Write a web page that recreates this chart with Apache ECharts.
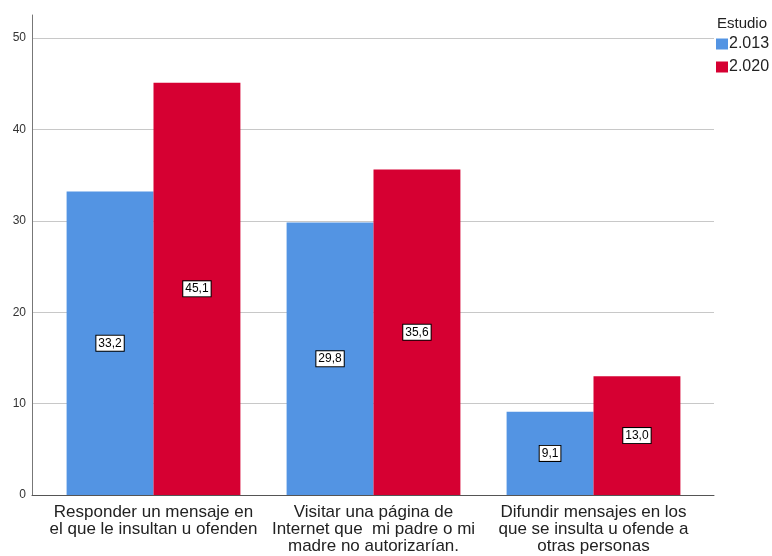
<!DOCTYPE html>
<html>
<head>
<meta charset="utf-8">
<script src="https://cdn.jsdelivr.net/npm/echarts@6/dist/echarts.min.js"></script>
<style>html,body{margin:0;padding:0;background:#fff}#c{width:772px;height:556px}</style>
</head>
<body>
<div id="c"></div>
<script>
var categories = [
  "Responder un mensaje en\nel que le insultan u ofenden",
  "Visitar una página de\nInternet que  mi padre o mi\nmadre no autorizarían.",
  "Difundir mensajes en los\nque se insulta u ofende a\notras personas"
];
var seriesNames = ["2.013", "2.020"];
var values2013 = [33.2, 29.8, 9.1];
var values2020 = [45.1, 35.6, 13.0];
var yTicks = [0, 10, 20, 30, 40, 50];
var legendTitle = "Estudio";

var FONT = "'Liberation Sans', Arial, sans-serif";
var chart = echarts.init(document.getElementById('c'), null, {renderer: 'canvas'});

function lbl() {
  return {
    show: true,
    position: 'inside',
    formatter: function (p) { return p.value.toFixed(1).replace('.', ','); },
    color: '#000',
    fontFamily: FONT,
    fontSize: 12,
    backgroundColor: '#fff',
    borderColor: '#000',
    borderWidth: 1,
    padding: [2, 2, 1, 2]
  };
}

chart.setOption({
  animation: false,
  title: {
    text: legendTitle,
    left: 717, top: 16,
    padding: 0,
    textStyle: {fontFamily: FONT, fontSize: 15, fontWeight: 'normal', color: '#222'}
  },
  legend: {
    data: seriesNames,
    orient: 'vertical',
    left: 716, top: 36,
    padding: 0,
    itemWidth: 12, itemHeight: 11,
    itemGap: 7,
    icon: 'rect',
    textStyle: {fontFamily: FONT, fontSize: 16, color: '#222', padding: [0, 0, 0, -4]}
  },
  grid: [
    {left: 32, right: 58, top: 38, bottom: 61, containLabel: false},
    {left: 43.5, right: 68.5, top: 15, bottom: 61, containLabel: false}
  ],
  xAxis: [
    {
      type: 'category', gridIndex: 0, data: categories,
      axisLine: {show: true, lineStyle: {color: '#555', width: 1}},
      axisTick: {show: false}, axisLabel: {show: false}, splitLine: {show: false}
    },
    {
      type: 'category', gridIndex: 1, data: categories,
      axisLine: {show: false}, axisTick: {show: false},
      axisLabel: {
        show: true, interval: 0, margin: 9,
        fontFamily: FONT, fontSize: 17, lineHeight: 17, color: '#222'
      }
    }
  ],
  yAxis: [
    {
      type: 'value', gridIndex: 0, min: yTicks[0], max: yTicks[yTicks.length - 1], interval: 10,
      axisLine: {show: false}, axisTick: {show: false},
      axisLabel: {show: true, margin: 6, fontFamily: FONT, fontSize: 12, color: '#333'},
      splitLine: {show: true, lineStyle: {color: '#c8c8c8', width: 1}}
    },
    {
      type: 'value', gridIndex: 1, min: 0, max: 52.5, offset: 11.5,
      axisLine: {show: true, lineStyle: {color: '#777', width: 1}},
      axisTick: {show: false}, axisLabel: {show: false}, splitLine: {show: false}
    }
  ],
  series: [
    {
      name: seriesNames[0], type: 'bar', xAxisIndex: 1, yAxisIndex: 1,
      data: values2013, barGap: '0%', barCategoryGap: '21%',
      itemStyle: {color: '#5394e3'}, label: lbl()
    },
    {
      name: seriesNames[1], type: 'bar', xAxisIndex: 1, yAxisIndex: 1,
      data: values2020, barGap: '0%', barCategoryGap: '21%',
      itemStyle: {color: '#d60032'}, label: lbl()
    }
  ]
});
</script>
</body>
</html>
